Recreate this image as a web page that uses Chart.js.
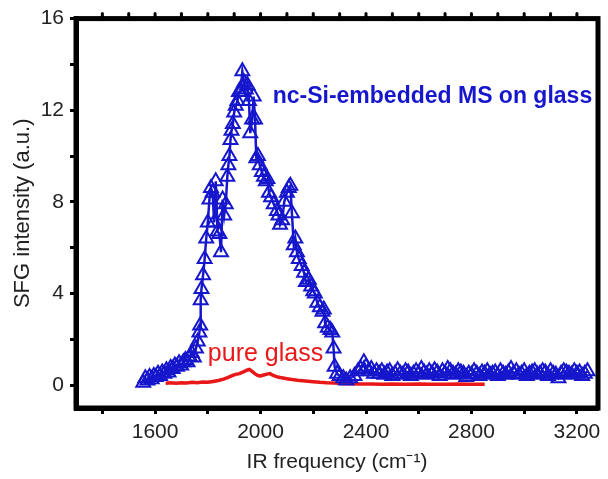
<!DOCTYPE html>
<html><head><meta charset="utf-8">
<script src="https://cdn.jsdelivr.net/npm/chart.js@4/dist/chart.umd.min.js"></script>
<style>html,body{margin:0;padding:0;background:#fff}#wrap{width:608px;height:479px}</style>
</head><body><div id="wrap"><canvas id="c" width="608" height="479"></canvas></div>
<script>
const blueX = [1555,1563,1571,1579,1587,1595,1603,1611,1619,1627,1635,1643,1651,1659,1667,1675,1683,1691,1699,1707,1715,1723,1731,1739,1747,1755,1762,1768,1771,1773,1776,1782,1788,1794,1800,1806,1812,1818,1824,1830,1837,1844,1850,1856,1862,1868,1874,1878,1882,1886,1890,1895,1900,1906,1912,1918,1924,1931,1938,1944,1950,1956,1961,1968,1974,1979,1984,1990,1997,2005,2013,2020,2026,2032,2040,2050,2062,2068,2074,2082,2090,2100,2107,2113,2119,2126,2132,2138,2145,2156,2165,2172,2183,2192,2200,2206,2215,2225,2235,2240,2245,2255,2265,2272,2277,2281,2290,2300,2314,2325,2340,2356,2370,2380,2392,2400,2410,2420,2430,2440,2450,2460,2470,2480,2490,2500,2510,2520,2530,2540,2550,2560,2570,2580,2590,2600,2610,2620,2630,2640,2650,2660,2670,2680,2690,2700,2710,2720,2730,2740,2750,2760,2770,2780,2790,2800,2810,2820,2830,2840,2850,2860,2870,2880,2890,2900,2910,2920,2930,2940,2950,2960,2970,2980,2990,3000,3010,3020,3030,3040,3050,3060,3070,3080,3090,3100,3110,3120,3130,3140,3150,3160,3170,3180,3190,3200,3210,3220,3230,3240,3250,3260,3270,3280];
const blueY = [0.1,0.3,0.2,0.35,0.25,0.4,0.35,0.5,0.4,0.55,0.5,0.65,0.55,0.75,0.7,0.85,0.8,0.95,0.85,1.0,1.1,1.0,1.25,1.4,1.2,1.6,1.9,2.3,2.6,3.7,4.2,4.8,5.5,6.4,7.1,8.1,8.6,8.4,7.1,8.9,6.7,6.6,5.8,8.1,7.4,7.9,9.1,9.6,10.0,10.7,11.1,11.4,11.9,12.2,12.4,12.8,12.8,13.7,13.2,12.9,13.1,12.4,11.0,11.6,12.6,11.6,9.9,10.0,9.6,9.3,9.1,8.9,9.0,8.4,8.2,7.9,7.6,7.4,7.0,7.2,8.0,8.4,8.6,8.7,7.5,6.1,6.4,5.8,5.5,5.2,4.9,4.5,4.6,4.3,4.1,4.0,3.6,3.4,3.2,3.3,2.7,2.5,2.4,2.3,1.6,0.8,0.5,0.4,0.3,0.2,0.3,0.4,0.6,0.7,1.0,0.8,0.6,0.7,0.5,0.6,0.5,0.6,0.45,0.55,0.6,0.4,0.5,0.65,0.5,0.45,0.6,0.55,0.4,0.5,0.6,0.5,0.7,0.55,0.45,0.6,0.5,0.65,0.55,0.4,0.6,0.5,0.7,0.6,0.5,0.45,0.6,0.55,0.5,0.35,0.5,0.45,0.6,0.5,0.4,0.55,0.5,0.6,0.45,0.5,0.55,0.4,0.6,0.5,0.45,0.55,0.7,0.5,0.6,0.45,0.5,0.6,0.4,0.5,0.55,0.6,0.45,0.5,0.6,0.55,0.4,0.6,0.5,0.45,0.3,0.5,0.6,0.55,0.5,0.45,0.6,0.5,0.55,0.4,0.5,0.6];
const redX = [1640,1660,1680,1700,1720,1740,1760,1780,1800,1820,1840,1860,1875,1890,1905,1920,1935,1948,1958,1968,1978,1990,2000,2012,2024,2036,2048,2060,2075,2090,2105,2120,2140,2160,2180,2200,2225,2250,2280,2310,2340,2380,2420,2460,2500,2550,2600,2650,2700,2750,2800,2850];
const redY = [0.08,0.1,0.08,0.1,0.09,0.12,0.1,0.13,0.12,0.16,0.2,0.26,0.33,0.4,0.47,0.5,0.58,0.65,0.68,0.6,0.5,0.42,0.4,0.44,0.48,0.5,0.42,0.37,0.33,0.3,0.27,0.24,0.21,0.19,0.17,0.15,0.12,0.1,0.09,0.07,0.06,0.05,0.05,0.04,0.05,0.04,0.05,0.04,0.04,0.05,0.04,0.04];
const xMajorTicks = [1400,1600,1800,2000,2200,2400,2600,2800,3000,3200];
const yMajorTicks = [0,2,4,6,8,10,12,14,16];
const xLabelEvery = 400;
const yLabelEvery = 4;
const seriesLabels = ["nc-Si-embedded MS on glass","pure glass"];

const blueData = blueX.map((x,i)=>({x, y: blueY[i]}));
const redData = redX.map((x,i)=>({x, y: redY[i]}));
const BLUE = '#1616cc', RED = '#e81818';
const FONT = '"Liberation Sans", Arial, sans-serif';

const framePlugin = {
  id:'frame',
  afterDraw(chart){
    const {ctx, chartArea:a, scales} = chart;
    ctx.save();
    ctx.strokeStyle='#000'; ctx.lineWidth=5;
    ctx.strokeRect(a.left, a.top, a.right-a.left, a.bottom-a.top);
    ctx.lineWidth=3; ctx.lineCap='round';
    for (let v=1400; v<=3200; v+=100){
      const px = scales.x.getPixelForValue(v);
      ctx.beginPath(); ctx.moveTo(px, a.top); ctx.lineTo(px, a.top-5); ctx.stroke();
    }
    ctx.textBaseline='middle'; ctx.textAlign='left';
    ctx.fillStyle=BLUE; ctx.font='bold 23px '+FONT;
    ctx.fillText(seriesLabels[0], scales.x.getPixelForValue(2046), scales.y.getPixelForValue(12.6));
    ctx.fillStyle=RED; ctx.font='25px '+FONT;
    ctx.fillText(seriesLabels[1], scales.x.getPixelForValue(1800), scales.y.getPixelForValue(1.35));
    ctx.restore();
  }
};

new Chart(document.getElementById('c'), {
  type:'line',
  data:{datasets:[
    {label:seriesLabels[1], data:redData, borderColor:RED, borderWidth:3.5, pointRadius:0, tension:0, order:2},
    {label:seriesLabels[0], data:blueData, borderColor:BLUE, borderWidth:2.5, pointStyle:'triangle', pointRadius:8, pointBorderWidth:2, pointBorderColor:BLUE, pointBackgroundColor:'rgba(255,255,255,0)', tension:0, order:1}
  ]},
  plugins:[framePlugin],
  options:{
    responsive:false, animation:false, devicePixelRatio:1,
    layout:{padding:{top:15,right:5,left:0,bottom:0}},
    plugins:{legend:{display:false}, tooltip:{enabled:false}},
    scales:{
      x:{type:'linear', min:1300, max:3280,
        afterBuildTicks(s){ s.ticks = xMajorTicks.map(v=>({value:v})); },
        afterFit(s){ s.height = 71; },
        border:{display:true, color:'#000', width:5},
        grid:{drawOnChartArea:false, drawTicks:true, tickLength:6, tickWidth:3, tickColor:'#000'},
        ticks:{autoSkip:false, maxRotation:0, padding:6, color:'#222', font:{family:FONT, size:21},
          callback:(v)=> (v % xLabelEvery === 0 ? String(v) : '')},
        title:{display:true, text:'IR frequency (cm\u207B\u00B9)', color:'#222', font:{family:FONT, size:21}, padding:{top:0,bottom:4}}
      },
      y:{type:'linear', min:-1, max:16,
        afterBuildTicks(s){ s.ticks = yMajorTicks.map(v=>({value:v})); },
        afterFit(s){ s.width = 76; },
        border:{display:true, color:'#000', width:5},
        grid:{drawOnChartArea:false, drawTicks:true, tickLength:6, tickWidth:3, tickColor:'#000'},
        ticks:{autoSkip:false, padding:6, color:'#222', font:{family:FONT, size:21},
          callback:(v)=> (v % yLabelEvery === 0 ? String(v) : '')},
        title:{display:true, text:'SFG intensity (a.u.)', color:'#222', font:{family:FONT, size:22}, padding:{top:10,bottom:0}}
      }
    }
  }
});
</script></body></html>
